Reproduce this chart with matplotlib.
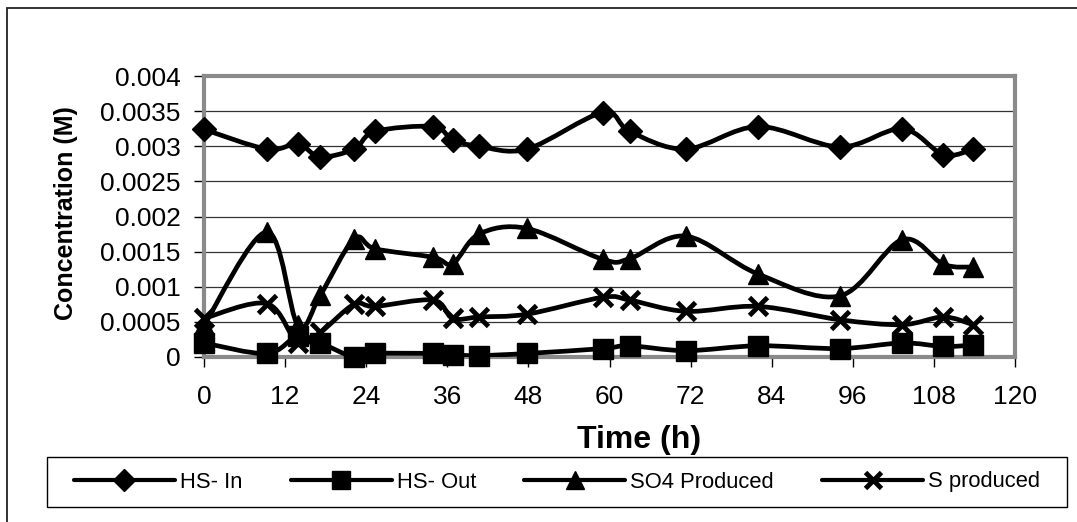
import numpy as np
import matplotlib
matplotlib.use("Agg")
import matplotlib.pyplot as plt
from matplotlib.path import Path
from matplotlib.patches import PathPatch, Rectangle
from matplotlib.lines import Line2D

plt.rcParams["font.family"] = ["Liberation Sans", "DejaVu Sans"]

# Sampling times (h)
time_h = [0, 9.3, 13.9, 17.2, 22.2, 25.3, 33.9, 36.8, 40.7, 47.8,
          59.0, 63.0, 71.3, 82.0, 94.1, 103.3, 109.4, 113.8]

# Concentrations (M)
hs_in = [0.00324, 0.00296, 0.00303, 0.00285, 0.00296, 0.00321, 0.00328, 0.00309,
         0.00300, 0.00296, 0.00348, 0.00321, 0.00296, 0.00328, 0.00299, 0.00325,
         0.00288, 0.00296]
hs_out = [0.00020, 0.00005, 0.00030, 0.00020, 0.00000, 0.00005, 0.00005, 0.00003,
          0.00002, 0.00005, 0.00012, 0.00016, 0.00009, 0.00016, 0.00012, 0.00020,
          0.00015, 0.00017]
so4_produced = [0.00045, 0.00178, 0.00045, 0.00088, 0.00168, 0.00154, 0.00142, 0.00133,
                0.00175, 0.00183, 0.00139, 0.00140, 0.00172, 0.00118, 0.00087, 0.00167,
                0.00132, 0.00128]
s_produced = [0.00055, 0.00076, 0.00020, 0.00035, 0.00075, 0.00072, 0.00081, 0.00055,
              0.00057, 0.00061, 0.00085, 0.00081, 0.00065, 0.00072, 0.00053, 0.00046,
              0.00057, 0.00046]

series_names = ["HS- In", "HS- Out", "SO4 Produced", "S produced"]
series_values = [hs_in, hs_out, so4_produced, s_produced]
series_markers = ["D", "s", "^", "x"]

x_ticks = [0, 12, 24, 36, 48, 60, 72, 84, 96, 108, 120]
y_ticks = [0, 0.0005, 0.001, 0.0015, 0.002, 0.0025, 0.003, 0.0035, 0.004]
y_tick_labels = ["0", "0.0005", "0.001", "0.0015", "0.002", "0.0025",
                 "0.003", "0.0035", "0.004"]

W, H = 1077, 522
fig = plt.figure(figsize=(W / 100, H / 100), dpi=100)
fig.patch.set_facecolor("white")

# chart-area border (left/top edges visible)
fig.patches.append(Rectangle((7 / W, -0.1), 1.2, 1 - 8 / H + 0.1,
                             transform=fig.transFigure, fill=False,
                             edgecolor="#222222", linewidth=1.3))

left, right, top, bottom = 204, 1015, 76, 357
ax = fig.add_axes([left / W, 1 - bottom / H, (right - left) / W, (bottom - top) / H])
ax.set_xlim(0, 120)
ax.set_ylim(0, 0.004)
ax.set_xticks(x_ticks)
ax.set_xticklabels([str(v) for v in x_ticks])
ax.set_yticks(y_ticks)
ax.set_yticklabels(y_tick_labels)
ax.tick_params(axis="both", labelsize=19, length=7, width=1, color="black",
               direction="out")
ax.tick_params(axis="y", pad=10)
ax.tick_params(axis="x", pad=13)
ax.grid(axis="y", color="#333333", linewidth=0.9)
ax.set_axisbelow(True)
for sp in ax.spines.values():
    sp.set_color("#8a8a8a")
    sp.set_linewidth(3)

ax.set_xlabel("Time (h)", fontsize=23, fontweight="bold")
ax.xaxis.set_label_coords((639 - left) / (right - left), (bottom - 425) / (bottom - top))
ax.set_ylabel("Concentration (M)", fontsize=18, fontweight="bold")
ax.yaxis.set_label_coords((78 - left) / (right - left), (bottom - 213) / (bottom - top))


def smooth_path(xs, ys):
    """Bezier path through the points, smoothed in display space."""
    pts = ax.transData.transform(np.column_stack([xs, ys]))
    n = len(pts)
    verts = [pts[0]]
    codes = [Path.MOVETO]
    for i in range(n - 1):
        p0 = pts[i - 1] if i > 0 else pts[i]
        p1 = pts[i]
        p2 = pts[i + 1]
        p3 = pts[i + 2] if i + 2 < n else pts[i + 1]
        c1 = p1 + (p2 - p0) / 6.0
        c2 = p2 - (p3 - p1) / 6.0
        verts += [c1, c2, p2]
        codes += [Path.CURVE4] * 3
    verts = ax.transData.inverted().transform(np.array(verts))
    return Path(verts, codes)


line_w = 3.4
handles = []
for name, vals, mk in zip(series_names, series_values, series_markers):
    ax.add_patch(PathPatch(smooth_path(time_h, vals), facecolor="none",
                           edgecolor="black", linewidth=line_w,
                           capstyle="round", joinstyle="round", zorder=3))
    if mk == "x":
        ms, mew = 13, 3.5
    elif mk == "D":
        ms, mew = 12, 1
    else:
        ms, mew = 14, 1
    ax.plot(time_h, vals, linestyle="none", marker=mk, markersize=ms,
            markerfacecolor="black", markeredgecolor="black",
            markeredgewidth=mew, zorder=4, clip_on=False)
    handles.append(Line2D([], [], color="black", linewidth=3.0, marker=mk,
                          markersize=ms * 0.9, markeredgewidth=mew,
                          markerfacecolor="black", markeredgecolor="black",
                          solid_capstyle="round", label=name))

# legend box
lx0, ly0, lx1, ly1 = 47, 457, 1067, 507
fig.patches.append(Rectangle((lx0 / W, 1 - ly1 / H), (lx1 - lx0) / W, (ly1 - ly0) / H,
                             transform=fig.transFigure, fill=False,
                             edgecolor="black", linewidth=1.0))
fig.legend(handles=handles, loc="center",
           bbox_to_anchor=((lx0 + lx1) / 2 / W, 1 - (ly0 + ly1) / 2 / H),
           ncol=4, frameon=False, fontsize=15.8, handlelength=4.6,
           handletextpad=0.23, columnspacing=2.2, borderpad=0)

fig.savefig("out.png", dpi=100, facecolor="white")
